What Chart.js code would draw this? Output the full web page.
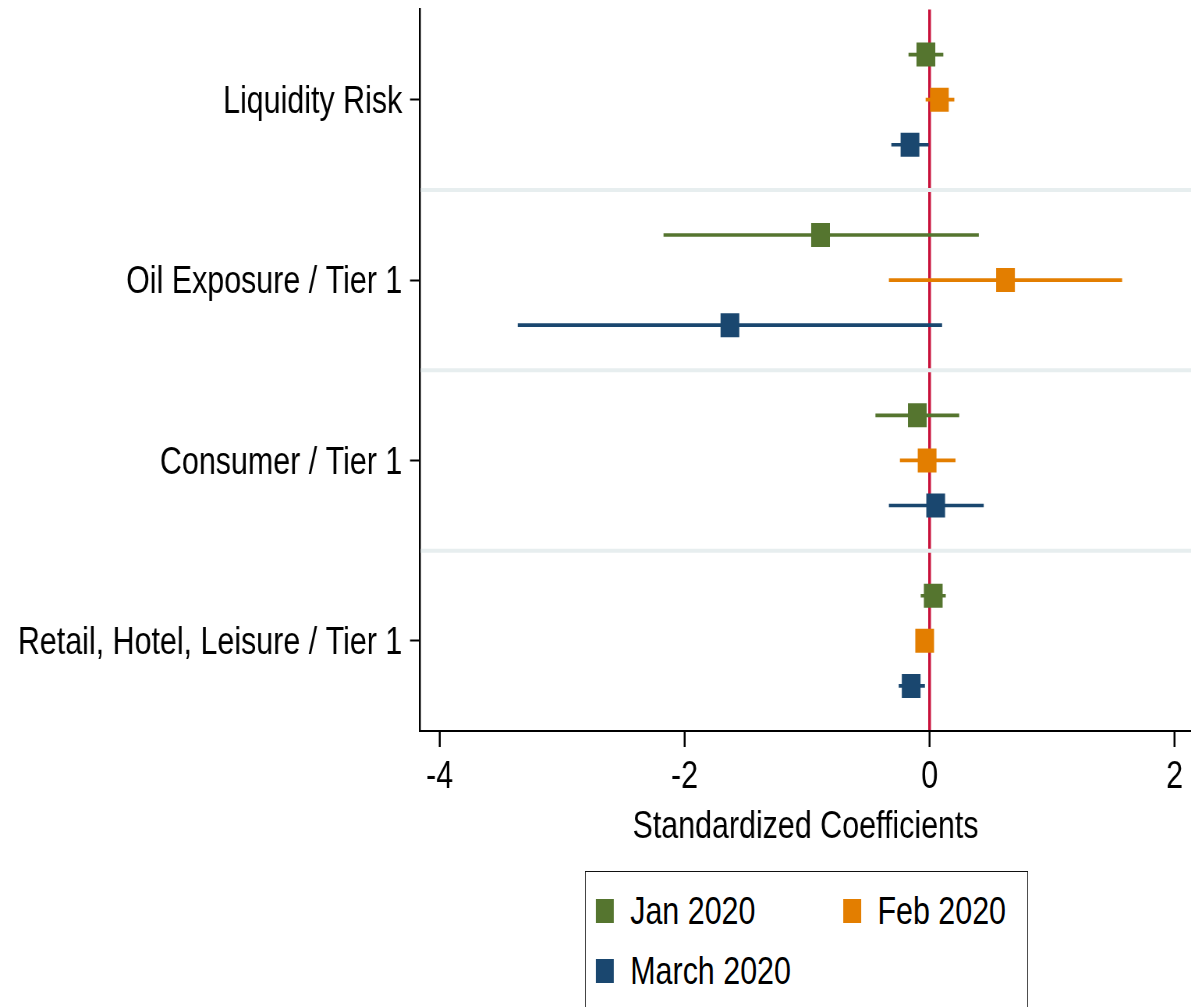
<!DOCTYPE html>
<html>
<head>
<meta charset="utf-8">
<title>Standardized Coefficients</title>
<script src="https://cdn.jsdelivr.net/npm/chart.js@4.4.1/dist/chart.umd.min.js"></script>
<style>
  html, body { margin: 0; padding: 0; background: #fff; overflow: hidden; }
  /* the figure uses a condensed face: everything is drawn wide, then narrowed */
  #wrap {
    position: relative; width: 1527px; height: 1007px;
    transform: scaleX(0.78); transform-origin: 0 0;
  }
  #chart { position: absolute; left: 0; top: 0; }
  #legend {
    position: absolute; left: 750px; top: 871px; width: 568px; height: 180px;
    box-sizing: border-box; border: 1.6px solid #111; background: #fff;
    font-family: 'Liberation Sans', Arial, sans-serif;
    font-size: 39px; color: #000;
  }
  .item { position: absolute; display: flex; align-items: center; height: 24px; white-space: nowrap; }
  .swatch { width: 23px; height: 24px; margin-right: 21px; flex: none; }
</style>
</head>
<body>
<div id="wrap">
  <canvas id="chart" width="1527" height="1007"></canvas>
  <div id="legend"></div>
</div>
<script>
// Coefficient estimates with confidence intervals, by period
const categories = ['Liquidity Risk', 'Oil Exposure / Tier 1', 'Consumer / Tier 1', 'Retail, Hotel, Leisure / Tier 1'];
const seriesNames = ['Jan 2020', 'Feb 2020', 'March 2020'];

const janCoef = [-0.03, -0.89, -0.10, 0.03];
const janLow  = [-0.17, -2.17, -0.44, -0.07];
const janHigh = [ 0.11,  0.40,  0.24, 0.13];

const febCoef = [ 0.08,  0.62, -0.02, -0.04];
const febLow  = [-0.03, -0.33, -0.24, -0.08];
const febHigh = [ 0.20,  1.57,  0.21,  0.01];

const marCoef = [-0.16, -1.63,  0.05, -0.15];
const marLow  = [-0.31, -3.36, -0.33, -0.25];
const marHigh = [-0.01,  0.10,  0.44, -0.04];

const xTickValues = [-4, -2, 0, 2];

// Layout / styling
const FONT = "'Liberation Sans', Arial, sans-serif";
const seriesColors = ['#55752f', '#e37e00', '#1a476f'];
const rowOffsets = [-0.25, 0, 0.25];
const groupSeparators = [0.5, 1.5, 2.5];
const zeroLineColor = '#c8103a';

const series = [
  { coef: janCoef, low: janLow, high: janHigh },
  { coef: febCoef, low: febLow, high: febHigh },
  { coef: marCoef, low: marLow, high: marHigh }
];

const datasets = [];
series.forEach((s, k) => {
  // confidence interval as a thin floating bar
  datasets.push({
    type: 'bar',
    label: seriesNames[k] + ' CI',
    indexAxis: 'y',
    data: categories.map((c, i) => ({ x: [s.low[i], s.high[i]], y: i + rowOffsets[k] })),
    backgroundColor: seriesColors[k],
    borderWidth: 0,
    barThickness: 3,
    grouped: false,
    order: 2
  });
  // point estimate
  datasets.push({
    type: 'scatter',
    label: seriesNames[k],
    data: categories.map((c, i) => ({ x: s.coef[i], y: i + rowOffsets[k] })),
    pointStyle: 'rect',
    pointRadius: 17,
    borderWidth: 0,
    backgroundColor: seriesColors[k],
    borderColor: seriesColors[k],
    order: 1
  });
});

const separatorPlugin = {
  id: 'groupSeparators',
  beforeDatasetsDraw(chart) {
    const { ctx, chartArea: a, scales: { y } } = chart;
    ctx.save();
    ctx.strokeStyle = '#e7eeef';
    ctx.lineWidth = 4;
    groupSeparators.forEach(v => {
      const py = y.getPixelForValue(v);
      ctx.beginPath();
      ctx.moveTo(a.left + 1, py);
      ctx.lineTo(a.right, py);
      ctx.stroke();
    });
    ctx.restore();
  }
};

const tickFont = { family: FONT, size: 39 };

const chart = new Chart(document.getElementById('chart'), {
  type: 'scatter',
  data: { datasets },
  plugins: [separatorPlugin],
  options: {
    responsive: false,
    maintainAspectRatio: false,
    animation: false,
    layout: { autoPadding: false, padding: { top: 9.5, right: 0, bottom: 156, left: 0 } },
    plugins: { legend: { display: false }, tooltip: { enabled: false } },
    scales: {
      x: {
        type: 'linear',
        min: -4.16,
        max: 2.135,
        afterBuildTicks: s => { s.ticks = xTickValues.map(v => ({ value: v })); },
        afterFit: s => { s.height = 120; s.paddingLeft = 0; s.paddingRight = 0; },
        ticks: { font: tickFont, color: '#000', padding: 7, callback: v => String(v) },
        grid: {
          drawOnChartArea: true,
          color: ctx => (ctx.tick && ctx.tick.value === 0) ? zeroLineColor : 'rgba(0,0,0,0)',
          lineWidth: 3.5,
          tickColor: '#000',
          tickLength: 16,
          tickWidth: 2.5
        },
        border: { color: '#000', width: 2 },
        title: {
          display: true,
          text: 'Standardized Coefficients',
          font: tickFont,
          color: '#000',
          padding: { top: 0, bottom: 0 }
        }
      },
      y: {
        type: 'linear',
        reverse: true,
        offset: false,
        min: -0.5,
        max: 3.5,
        afterBuildTicks: s => { s.ticks = categories.map((c, i) => ({ value: i })); },
        afterFit: s => { s.width = 538.5; s.paddingTop = 0; s.paddingBottom = 0; },
        ticks: { font: tickFont, color: '#000', padding: 10, labelOffset: 2.5, callback: v => categories[v] },
        grid: { offset: false, drawOnChartArea: false, tickLength: 12.8, tickColor: '#000', tickWidth: 2 },
        border: { color: '#000', width: 2.5 }
      }
    }
  }
});

// Legend box: two columns, items from the period series
const legend = document.getElementById('legend');
seriesNames.forEach((name, k) => {
  const item = document.createElement('div');
  item.className = 'item';
  item.style.left = (13 + (k % 2) * 317) + 'px';
  item.style.top = (27 + Math.floor(k / 2) * 60) + 'px';
  const sw = document.createElement('span');
  sw.className = 'swatch';
  sw.style.background = seriesColors[k];
  const tx = document.createElement('span');
  tx.textContent = name;
  item.appendChild(sw);
  item.appendChild(tx);
  legend.appendChild(item);
});
</script>
</body>
</html>
